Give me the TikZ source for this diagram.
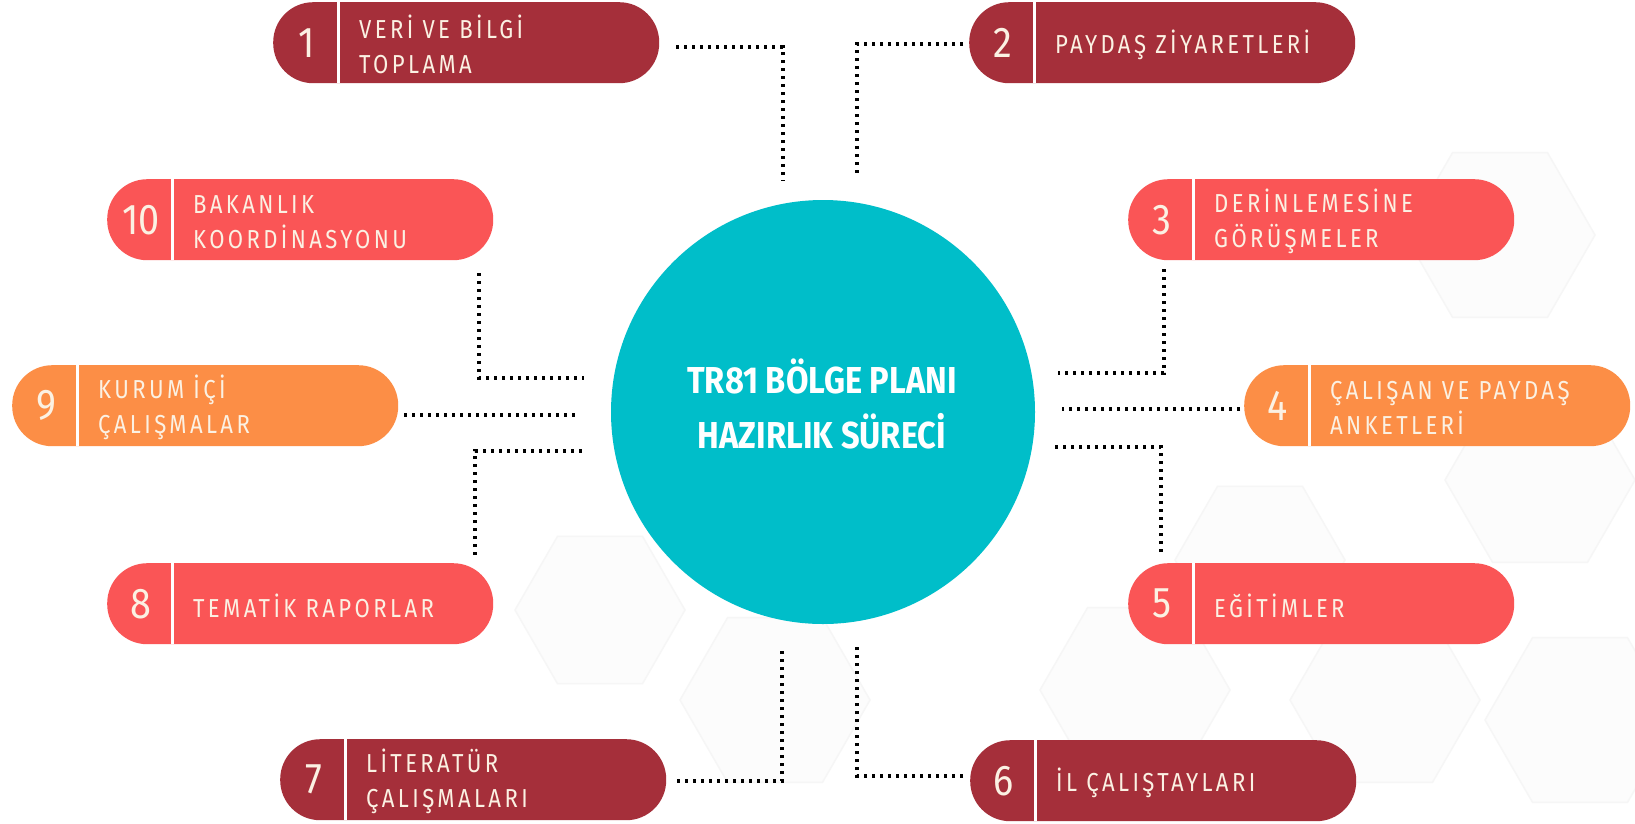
\documentclass[tikz,border=0pt]{standalone}
\usepackage{fontspec}
\usetikzlibrary{shapes.geometric}
\setmainfont{Fira Sans}
\newfontfamily\boxfont[LetterSpace=13,FakeStretch=0.85]{Fira Sans}
\newfontfamily\numfont[FakeStretch=0.88]{Fira Sans}
\newfontfamily\titlefont[FakeStretch=0.87]{Fira Sans}
\definecolor{darkred}{HTML}{A52F3A}
\definecolor{coral}{HTML}{FA5556}
\definecolor{orng}{HTML}{FC8E46}
\definecolor{tealc}{HTML}{00BEC9}
\definecolor{cream}{HTML}{FBF1E3}
\tikzset{
  pill/.style={anchor=north west, rectangle, rounded corners=40pt, minimum width=386pt, minimum height=81pt, inner sep=0pt, draw=none},
  numtxt/.style={anchor=center, inner sep=0pt, text=cream, font=\numfont\fontsize{43}{43}\selectfont},
  labtxt/.style={anchor=west, inner sep=0pt, align=left, text=cream, font=\boxfont\fontsize{26}{35}\selectfont},
  dotline/.style={line width=3.4pt, dash pattern=on 3.4pt off 4.6pt, black},
  hexa/.style={regular polygon, regular polygon sides=6, minimum size=#1, inner sep=0pt, fill=gray!2, draw=gray!7, line width=1.5pt},
}
\newcommand\pillbox[6]{%
  \node[pill, fill=#4] (#1) at (#2,#3) {};
  \draw[white, line width=3pt] ([xshift=65.5pt]#1.north west) -- ([xshift=65.5pt]#1.south west);
  \node[numtxt] (#1n) at ([xshift=34pt]#1.west) {#5};
  \node[labtxt] (#1t) at ([xshift=86pt,yshift=-2pt]#1.west) {#6};
}
\begin{document}
\begin{tikzpicture}[x=1pt,y=-1pt]
\useasboundingbox (0,0) rectangle (1635,823);
\fill[white] (0,0) rectangle (1635,823);
% background hexagons
\node[hexa=190pt] (hx1) at (1500,235) {};
\node[hexa=190pt] (hx2) at (1540,480) {};
\node[hexa=190pt] (hx3) at (1385,700) {};
\node[hexa=190pt] (hx4) at (1580,720) {};
\node[hexa=190pt] (hx5) at (1135,690) {};
\node[hexa=170pt] (hx6) at (600,610) {};
\node[hexa=190pt] (hx7) at (775,700) {};
\node[hexa=170pt] (hx8) at (1260,560) {};
% hub
\node[circle, fill=tealc, minimum size=424pt, inner sep=0pt] (hub) at (823,412) {};
\node[align=center, inner sep=0pt, text=white, font=\titlefont\bfseries\fontsize{37.5}{55}\selectfont] (title) at (822,404) {TR81 BÖLGE PLANI\\HAZIRLIK SÜRECİ};
% boxes
\pillbox{b1}{273}{2}{darkred}{1}{VERİ VE BİLGİ\\TOPLAMA}
\pillbox{b2}{969}{2}{darkred}{2}{PAYDAŞ ZİYARETLERİ}
\pillbox{b10}{107}{179}{coral}{10}{BAKANLIK\\KOORDİNASYONU}
\pillbox{b3}{1128}{179}{coral}{3}{DERİNLEMESİNE\\GÖRÜŞMELER}
\pillbox{b9}{12}{365}{orng}{9}{KURUM İÇİ\\ÇALIŞMALAR}
\pillbox{b4}{1244}{365}{orng}{4}{ÇALIŞAN VE PAYDAŞ\\ANKETLERİ}
\pillbox{b8}{107}{563}{coral}{8}{TEMATİK RAPORLAR}
\pillbox{b5}{1128}{563}{coral}{5}{EĞİTİMLER}
\pillbox{b7}{280}{739}{darkred}{7}{LİTERATÜR\\ÇALIŞMALARI}
\pillbox{b6}{970}{740}{darkred}{6}{İL ÇALIŞTAYLARI}
% connector points
\coordinate (c1a) at (676,47);  \coordinate (c1b) at (783,47);  \coordinate (c1c) at (783,181);
\coordinate (c2a) at (963,44);  \coordinate (c2b) at (857,44);  \coordinate (c2c) at (857,173);
\coordinate (c10a) at (479,273); \coordinate (c10b) at (479,378); \coordinate (c10c) at (584,378);
\coordinate (c9a) at (404,415); \coordinate (c9b) at (577,415);
\coordinate (c8a) at (475,555); \coordinate (c8b) at (475,451); \coordinate (c8c) at (582,451);
\coordinate (c3a) at (1164,269); \coordinate (c3b) at (1164,373); \coordinate (c3c) at (1058,373);
\coordinate (c4a) at (1240,409); \coordinate (c4b) at (1062,409);
\coordinate (c5a) at (1161,552); \coordinate (c5b) at (1161,447); \coordinate (c5c) at (1055,447);
\coordinate (c7a) at (677,781); \coordinate (c7b) at (782,781); \coordinate (c7c) at (782,651);
\coordinate (c6a) at (963,776); \coordinate (c6b) at (857,776); \coordinate (c6c) at (857,644);
\draw[dotline] (c1a) -- (c1b) -- (c1c);
\draw[dotline] (c2a) -- (c2b) -- (c2c);
\draw[dotline] (c10a) -- (c10b) -- (c10c);
\draw[dotline] (c9a) -- (c9b);
\draw[dotline] (c8a) -- (c8b) -- (c8c);
\draw[dotline] (c3a) -- (c3b) -- (c3c);
\draw[dotline] (c4a) -- (c4b);
\draw[dotline] (c5a) -- (c5b) -- (c5c);
\draw[dotline] (c7a) -- (c7b) -- (c7c);
\draw[dotline] (c6a) -- (c6b) -- (c6c);
\end{tikzpicture}
\end{document}
